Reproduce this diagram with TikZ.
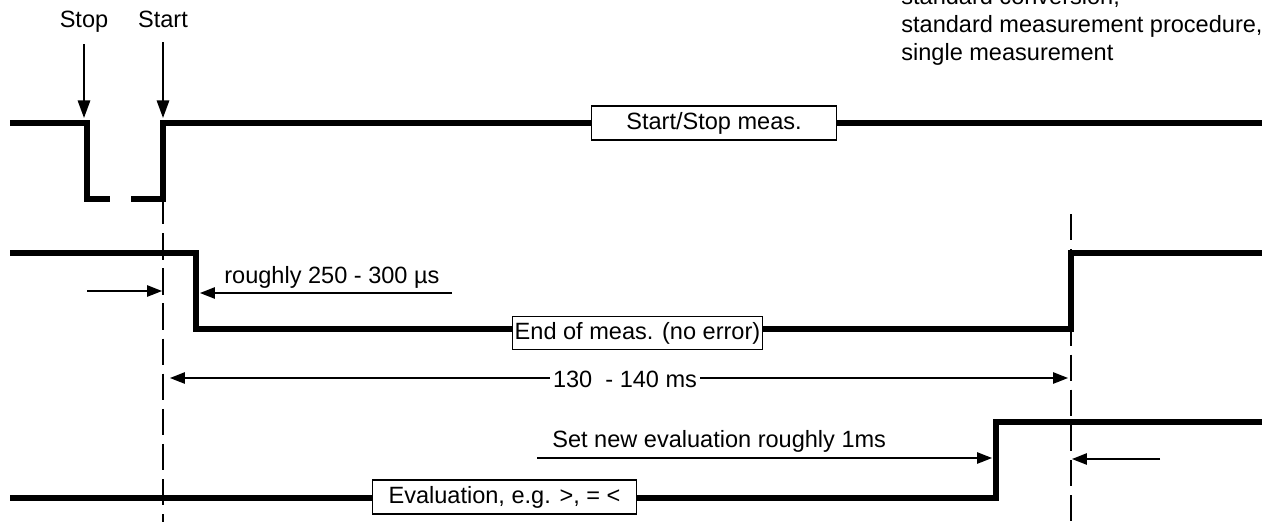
\documentclass[tikz,border=0pt]{standalone}
\usepackage{fontspec}
\setmainfont{Liberation Sans}
\usetikzlibrary{arrows.meta}

\tikzset{
  signal/.style={line width=2.9pt, line join=miter},
  marker/.style={line width=1.1pt, dash pattern=on 15pt off 5pt},
  dim/.style={line width=0.75pt, -{Triangle[length=8.5pt,width=6.5pt]}},
  trig/.style={line width=1.2pt, -{Triangle[length=10pt,width=7pt]}},
  sigbox/.style={draw, line width=0.6pt, fill=white, minimum height=0.68cm},
  txt/.style={font=\fontsize{13.4}{16}\selectfont, inner sep=0pt}
}

\begin{document}
\begin{tikzpicture}[x=0.02cm, y=-0.02cm]
  \path[use as bounding box, clip] (0,0) rectangle (1271,522);

  % Mode note
  \node[txt, anchor=base west] (mode1) at (901,4)  {standard conversion,};
  \node[txt, anchor=base west] (mode2) at (901,32) {standard measurement procedure,};
  \node[txt, anchor=base west] (mode3) at (901,60) {single measurement};

  % Trigger labels
  \node[txt, anchor=base] (stop)  at (84,27)  {Stop};
  \node[txt, anchor=base] (start) at (163,27) {Start};
  \coordinate (stopTail)  at (84,44);
  \coordinate (startTail) at (163,42);
  \coordinate (stopEdge)  at (84,118);
  \coordinate (startEdge) at (163,118);
  \draw[trig] (stopTail) -- (stopEdge);
  \draw[trig] (startTail) -- (startEdge);

  % Marker lines
  \draw[marker] (163,198) -- (163,522);
  \draw[marker] (1071,214) -- (1071,522);

  % Start/Stop meas.
  \draw[signal] (10,123) -- (87,123) -- (87,199) -- (110,199);
  \draw[signal] (131,199) -- (163,199) -- (163,123) -- (1262,123);
  \node[sigbox, txt, minimum width=4.9cm] (startstop) at (714,123) {Start/Stop meas.};

  % End of meas.
  \draw[signal] (10,253) -- (196,253) -- (196,329) -- (1071,329) -- (1071,253) -- (1262,253);
  \node[sigbox, txt, inner xsep=1pt, minimum height=0.66cm] (endmeas) at (637.5,333) {End of meas. (no error)};

  % Evaluation
  \draw[signal] (10,498) -- (996,498) -- (996,422) -- (1262,422);
  \node[sigbox, txt, inner xsep=9pt] (eval) at (504.5,497) {Evaluation, e.g. >, = <};

  % Delay after start
  \coordinate (delayL) at (87,291);
  \coordinate (delayM) at (162,291);
  \coordinate (delayR) at (200,293);
  \coordinate (delayT) at (452,293);
  \draw[dim] (delayL) -- (delayM);
  \draw[dim] (delayT) -- (delayR);
  \node[txt, anchor=base west] (delay) at (224,283) {roughly 250 - 300 µs};

  % Measurement time
  \coordinate (measL) at (170,378);
  \coordinate (measR) at (1068,378);
  \draw[dim, {Triangle[length=8.5pt,width=6.5pt]}-{Triangle[length=8.5pt,width=6.5pt]}] (measL) -- (measR);
  \node[txt, fill=white, inner xsep=1.5pt] (meastime) at (625,379) {130\ \ - 140 ms};

  % New evaluation
  \coordinate (setT) at (537,458);
  \coordinate (setH) at (992,458);
  \coordinate (endT) at (1160,459);
  \coordinate (endH) at (1072,459);
  \draw[dim] (setT) -- (setH);
  \draw[dim] (endT) -- (endH);
  \node[txt, anchor=base west] (setnew) at (552,447) {Set new evaluation roughly 1ms};
\end{tikzpicture}
\end{document}
